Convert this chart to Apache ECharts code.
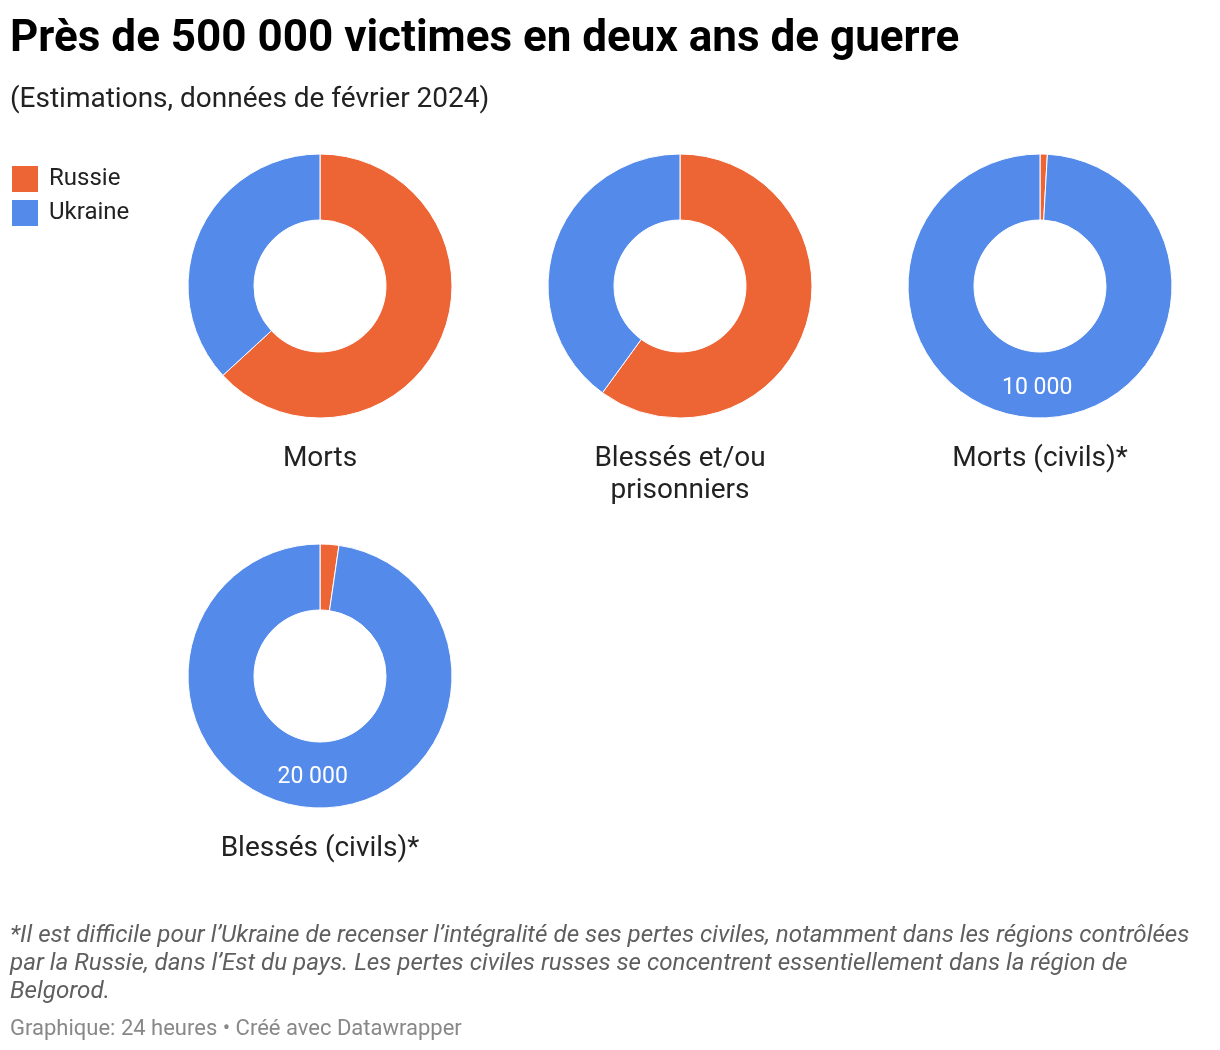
<!DOCTYPE html>
<html>
<head>
<meta charset="utf-8">
<script src="https://cdn.jsdelivr.net/npm/echarts@6/dist/echarts.min.js"></script>
<style>
html,body{margin:0;padding:0;background:#fff;}
#chart{width:1220px;height:1050px;}
</style>
</head>
<body>
<div id="chart"></div>
<script>
const countries = ['Russie', 'Ukraine'];
const colors = ['#EE6535', '#548BEA'];
const chartNames = ['Morts', 'Blessés et/ou\nprisonniers', 'Morts (civils)*', 'Blessés (civils)*'];
const russieValues = [120000, 180000, 90, 470];
const ukraineValues = [70000, 120000, 10000, 20000];
const showUkraineLabel = [false, false, true, true];

const centers = [[320, 286], [680, 286], [1040, 286], [320, 676]];
const FONT = 'Roboto, "Noto Sans", sans-serif';

function fmt(v) {
  return String(v).replace(/\B(?=(\d{3})+(?!\d))/g, ' ');
}

const series = chartNames.map((name, i) => ({
  type: 'pie',
  name: name,
  center: centers[i],
  radius: [66, 132],
  startAngle: 90,
  clockwise: true,
  avoidLabelOverlap: false,
  animation: false,
  silent: true,
  itemStyle: { borderColor: '#fff', borderWidth: 1 },
  label: { show: false },
  labelLine: { show: false },
  data: [
    { name: countries[0], value: russieValues[i], itemStyle: { color: colors[0] } },
    {
      name: countries[1], value: ukraineValues[i], itemStyle: { color: colors[1] },
      label: {
        show: showUkraineLabel[i], position: 'inside', color: '#fff',
        fontFamily: FONT, fontSize: 23,
        formatter: p => fmt(p.value)
      }
    }
  ]
}));

const titles = [
  { text: 'Près de 500 000 victimes en deux ans de guerre', left: 10, top: 18, padding: 0,
    textStyle: { fontFamily: FONT, fontSize: 44, fontWeight: 'bold', color: '#000' } },
  { text: '(Estimations, données de février 2024)', left: 10, top: 86, padding: 0,
    textStyle: { fontFamily: FONT, fontSize: 28, fontWeight: 'normal', color: '#222' } },
  { text: '*Il est difficile pour l’Ukraine de recenser l’intégralité de ses pertes civiles, notamment dans les régions contrôlées\npar la Russie, dans l’Est du pays. Les pertes civiles russes se concentrent essentiellement dans la région de\nBelgorod.',
    left: 10, top: 922, padding: 0,
    textStyle: { fontFamily: FONT, fontSize: 24.2, fontStyle: 'italic', fontWeight: 'normal', color: '#5f5f5f', lineHeight: 28 } },
  { text: 'Graphique: 24 heures • Créé avec Datawrapper', left: 10, top: 1018, padding: 0,
    textStyle: { fontFamily: FONT, fontSize: 22, fontWeight: 'normal', color: '#888' } }
];
chartNames.forEach((name, i) => {
  titles.push({
    text: name,
    left: centers[i][0], top: centers[i][1] + 157, padding: 0,
    textAlign: 'center',
    textStyle: { fontFamily: FONT, fontSize: 28, fontWeight: 'normal', color: '#222', lineHeight: 32, align: 'center' }
  });
});

const chart = echarts.init(document.getElementById('chart'), null, { renderer: 'canvas' });
chart.setOption({
  backgroundColor: '#fff',
  animation: false,
  title: titles,
  legend: {
    orient: 'vertical', left: 10, top: 164, padding: 0,
    itemWidth: 28, itemHeight: 28, itemGap: 4,
    icon: 'rect',
    selectedMode: false,
    data: countries,
    textStyle: { fontFamily: FONT, fontSize: 24, color: '#222', padding: [0, 0, 0, 5] }
  },
  color: colors,
  series: series
});
</script>
</body>
</html>
